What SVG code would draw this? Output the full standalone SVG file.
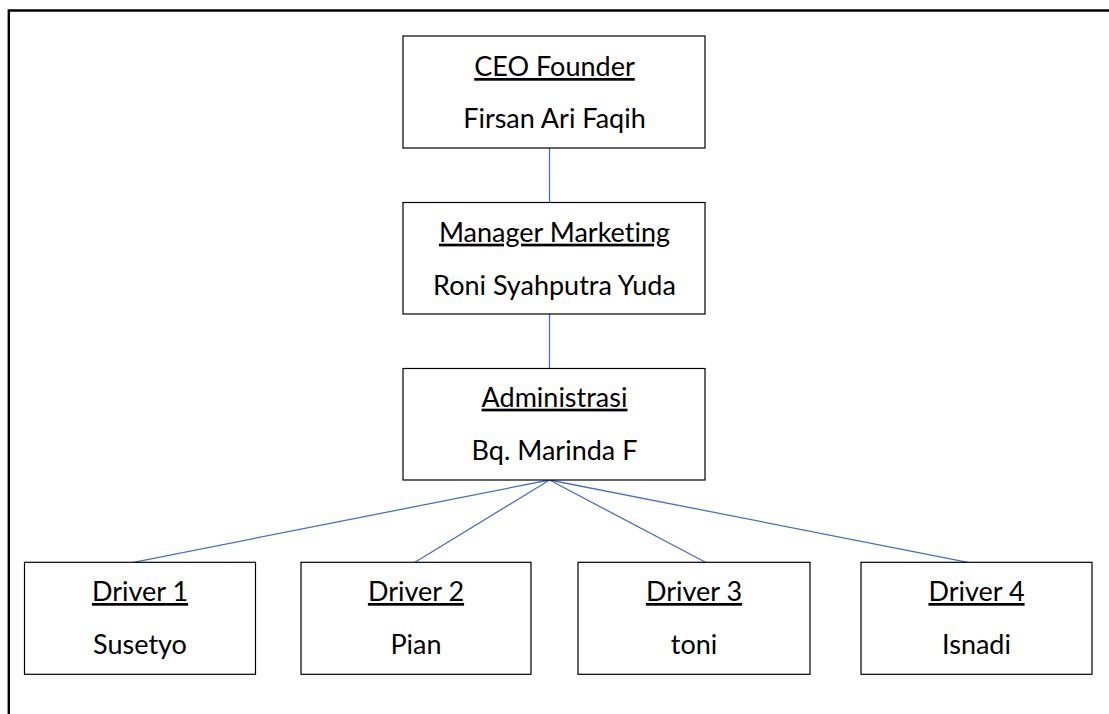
<svg xmlns="http://www.w3.org/2000/svg" width="1109" height="714" viewBox="0 0 1109 714">
<style>
.box{fill:#fff;stroke:#000;stroke-width:1.2}
.t{font-family:Lato,"Liberation Sans",sans-serif;font-size:27px;fill:#000;text-anchor:middle;font-variant-ligatures:none}
.u{text-decoration:underline}
.c{stroke:#4472C4;stroke-width:1.3;fill:none}
.frame{stroke:#000;stroke-width:2.4;fill:none}
</style>
<rect width="1109" height="714" fill="#fff"/>
<path class="frame" d="M8.8 714 V10.5 H1109"/>
<g id="connectors">
<line class="c" x1="549.5" y1="148" x2="549.5" y2="202.5"/>
<line class="c" x1="549.5" y1="314" x2="549.5" y2="368.5"/>
<line class="c" x1="549.5" y1="480" x2="133.5" y2="562.3"/>
<line class="c" x1="549.5" y1="480" x2="415" y2="562.3"/>
<line class="c" x1="549.5" y1="480" x2="705.5" y2="562.3"/>
<line class="c" x1="549.5" y1="480" x2="968" y2="562.3"/>
</g>
<g id="ceo">
<rect class="box" x="403" y="36" width="302" height="112"/>
<text class="t u" x="554.5" y="76">CEO Founder</text>
<text class="t" x="554.5" y="128">Firsan Ari Faqih</text>
</g>
<g id="manager">
<rect class="box" x="403" y="202.5" width="302" height="111.5"/>
<text class="t u" x="554.5" y="241.7">Manager Marketing</text>
<text class="t" x="554.5" y="295">Roni Syahputra Yuda</text>
</g>
<g id="admin">
<rect class="box" x="403" y="368.5" width="302" height="111.5"/>
<text class="t u" x="554.5" y="406.7">Administrasi</text>
<text class="t" x="554.5" y="460">Bq. Marinda F</text>
</g>
<g id="driver1">
<rect class="box" x="24.5" y="562.3" width="231" height="112"/>
<text class="t u" x="140" y="601">Driver 1</text>
<text class="t" x="140" y="654.3">Susetyo</text>
</g>
<g id="driver2">
<rect class="box" x="301" y="562.3" width="230" height="112"/>
<text class="t u" x="416" y="601">Driver 2</text>
<text class="t" x="416" y="654.3">Pian</text>
</g>
<g id="driver3">
<rect class="box" x="578" y="562.3" width="232" height="112"/>
<text class="t u" x="694" y="601">Driver 3</text>
<text class="t" x="694" y="654.3">toni</text>
</g>
<g id="driver4">
<rect class="box" x="861" y="562.3" width="231" height="112"/>
<text class="t u" x="976.5" y="601">Driver 4</text>
<text class="t" x="976.5" y="654.3">Isnadi</text>
</g>
</svg>
